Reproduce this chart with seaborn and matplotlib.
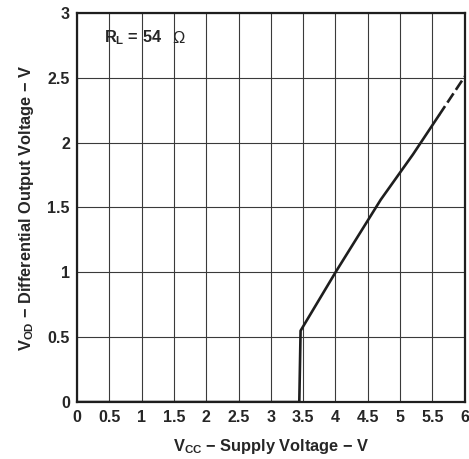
import matplotlib
matplotlib.use("Agg")
import matplotlib.pyplot as plt
import numpy as np
import pandas as pd
import seaborn as sns

# measured curve, V_OD vs V_CC (R_L = 54 ohm)
vcc_solid = [0.0, 3.44, 3.46, 4.0, 4.7, 5.2, 5.6]
vod_solid = [0.0, 0.0, 0.55, 1.0, 1.56, 1.91, 2.21]
vcc_dashed = [5.6, 6.0]
vod_dashed = [2.21, 2.51]

x_ticks = [0, 0.5, 1, 1.5, 2, 2.5, 3, 3.5, 4, 4.5, 5, 5.5, 6]
x_tick_labels = ["0", "0.5", "1", "1.5", "2", "2.5", "3", "3.5", "4", "4.5", "5", "5.5", "6"]
y_ticks = [0, 0.5, 1, 1.5, 2, 2.5, 3]
y_tick_labels = ["0", "0.5", "1", "1.5", "2", "2.5", "3"]

sns.set_style("white")
plt.rcParams["font.family"] = ["Liberation Sans", "DejaVu Sans"]
plt.rcParams["font.weight"] = "bold"
plt.rcParams["mathtext.fontset"] = "custom"
plt.rcParams["mathtext.rm"] = "Liberation Sans:bold"
plt.rcParams["mathtext.bf"] = "Liberation Sans:bold"
plt.rcParams["mathtext.it"] = "Liberation Sans:bold"

fig = plt.figure(figsize=(4.69, 4.59), dpi=100)
ax = fig.add_axes([0.164, 0.124, 0.827, 0.848])

solid = pd.DataFrame({"vcc": vcc_solid, "vod": vod_solid})
dashed = pd.DataFrame({"vcc": vcc_dashed, "vod": vod_dashed})
sns.lineplot(data=solid, x="vcc", y="vod", ax=ax, color="#1e1e1e", linewidth=1.9,
             sort=False, estimator=None, zorder=3)
sns.lineplot(data=dashed, x="vcc", y="vod", ax=ax, color="#1e1e1e", linewidth=1.9,
             sort=False, estimator=None, zorder=3, dashes=False)
ax.lines[-1].set_dashes((4.2, 1.6))

ax.set_xlim(0, 6)
ax.set_ylim(0, 3)
ax.set_xticks(x_ticks)
ax.set_xticklabels(x_tick_labels)
ax.set_yticks(y_ticks)
ax.set_yticklabels(y_tick_labels)
ax.tick_params(length=0, labelsize=11.5, pad=6)
ax.tick_params(axis="y", pad=5)
ax.grid(True, color="#3a3a3a", linewidth=0.8)
for s in ax.spines.values():
    s.set_visible(True)
    s.set_color("#1e1e1e")
    s.set_linewidth(1.6)

ax.set_xlabel(r"$\mathbf{V_{CC}}$ $-$ Supply Voltage $-$ V", fontsize=11.8,
              fontweight="bold", labelpad=8)
ax.set_ylabel(r"$\mathbf{V_{OD}}$ $-$ Differential Output Voltage $-$ V", fontsize=11.8,
              fontweight="bold", labelpad=8)

ax.text(0.42, 2.77, r"$\mathbf{R_L}$ = 54", fontsize=11.8, fontweight="bold",
        va="baseline", ha="left")
ax.text(1.47, 2.77, "Ω", fontsize=11.8, fontweight="normal", va="baseline", ha="left")

fig.savefig("out.png", dpi=100)
